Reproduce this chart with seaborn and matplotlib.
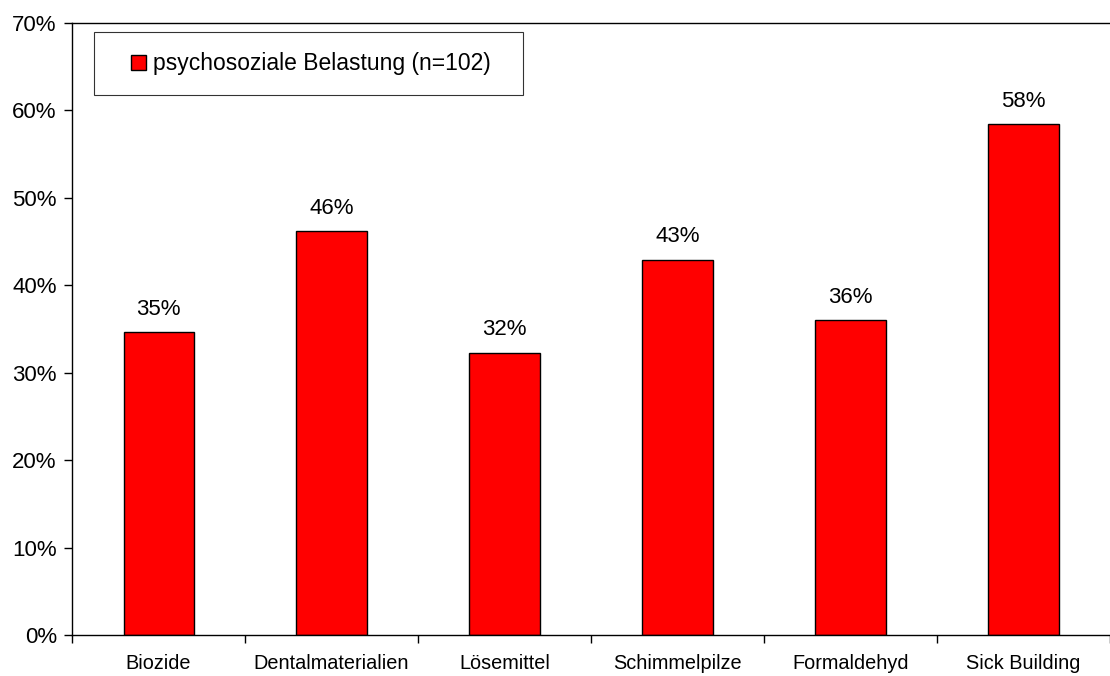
import matplotlib
matplotlib.use("Agg")
import matplotlib.pyplot as plt
import seaborn as sns
import pandas as pd
from matplotlib.ticker import FixedLocator, FuncFormatter
from matplotlib.legend_handler import HandlerPatch
from matplotlib.patches import Rectangle

categories = ["Biozide", "Dentalmaterialien", "Lösemittel", "Schimmelpilze", "Formaldehyd", "Sick Building"]
values = [34.6, 46.2, 32.3, 42.9, 36.0, 58.4]
series_name = "psychosoziale Belastung (n=102)"
y_ticks = [0, 10, 20, 30, 40, 50, 60, 70]

sns.set_theme(style="white")
plt.rcParams["font.family"] = ["Liberation Sans", "DejaVu Sans"]
plt.rcParams["text.color"] = "black"
plt.rcParams["xtick.color"] = "black"
plt.rcParams["ytick.color"] = "black"

df = pd.DataFrame({"Kategorie": categories, "Wert": values, "Serie": series_name})

fig = plt.figure(figsize=(11.10, 6.76), dpi=100)
ax = fig.add_axes([0.0649, 0.0607, 0.9351, 0.9053])

sns.barplot(data=df, x="Kategorie", y="Wert", hue="Serie", palette=["#FF0000"],
            saturation=1, edgecolor="black", linewidth=1.0, width=0.405, ax=ax, dodge=False)

for c in ax.containers:
    ax.bar_label(c, fmt="%.0f%%", padding=9, fontsize=16, color="black")

ax.set_xlim(-0.5, 5.5)
ax.set_ylim(0, 70)
ax.set_yticks(y_ticks)
ax.yaxis.set_major_formatter(FuncFormatter(lambda v, p: f"{v:.0f}%"))
ax.tick_params(axis="y", labelsize=16, length=6, width=1, color="black",
               labelcolor="black", direction="out", left=True, pad=5)

ax.xaxis.set_major_locator(FixedLocator([i - 0.5 for i in range(len(categories) + 1)]))
ax.xaxis.set_minor_locator(FixedLocator(list(range(len(categories)))))
ax.set_xticklabels([])
ax.set_xticklabels(categories, minor=True)
ax.tick_params(axis="x", which="major", length=6, width=1, color="black", direction="out", bottom=True)
ax.tick_params(axis="x", which="minor", length=0, labelsize=14.3, pad=14, bottom=True,
               labelcolor="black")

ax.set_xlabel("")
ax.set_ylabel("")

for s in ["left", "bottom", "top"]:
    ax.spines[s].set_visible(True)
    ax.spines[s].set_color("black")
    ax.spines[s].set_linewidth(1.0)
ax.spines["right"].set_visible(False)


def square_handle(legend, orig_handle, xdescent, ydescent, width, height, fontsize):
    side = 15 * 72 / 100  # in points
    return Rectangle((width - side - xdescent, (height - side) / 2 - ydescent), side, side)


leg = ax.legend(loc="upper left", bbox_to_anchor=(0.0212, 0.882, 0.413, 0.103),
                mode="expand", fontsize=16.5, frameon=True, fancybox=False,
                edgecolor="black", borderpad=0.88, handlelength=1.4, handleheight=0.7,
                handletextpad=0.3, borderaxespad=0,
                handler_map={Rectangle: HandlerPatch(patch_func=square_handle)})
leg.get_frame().set_linewidth(0.8)
for t in leg.get_texts():
    t.set_color("black")

fig.savefig("out.png", dpi=100)
